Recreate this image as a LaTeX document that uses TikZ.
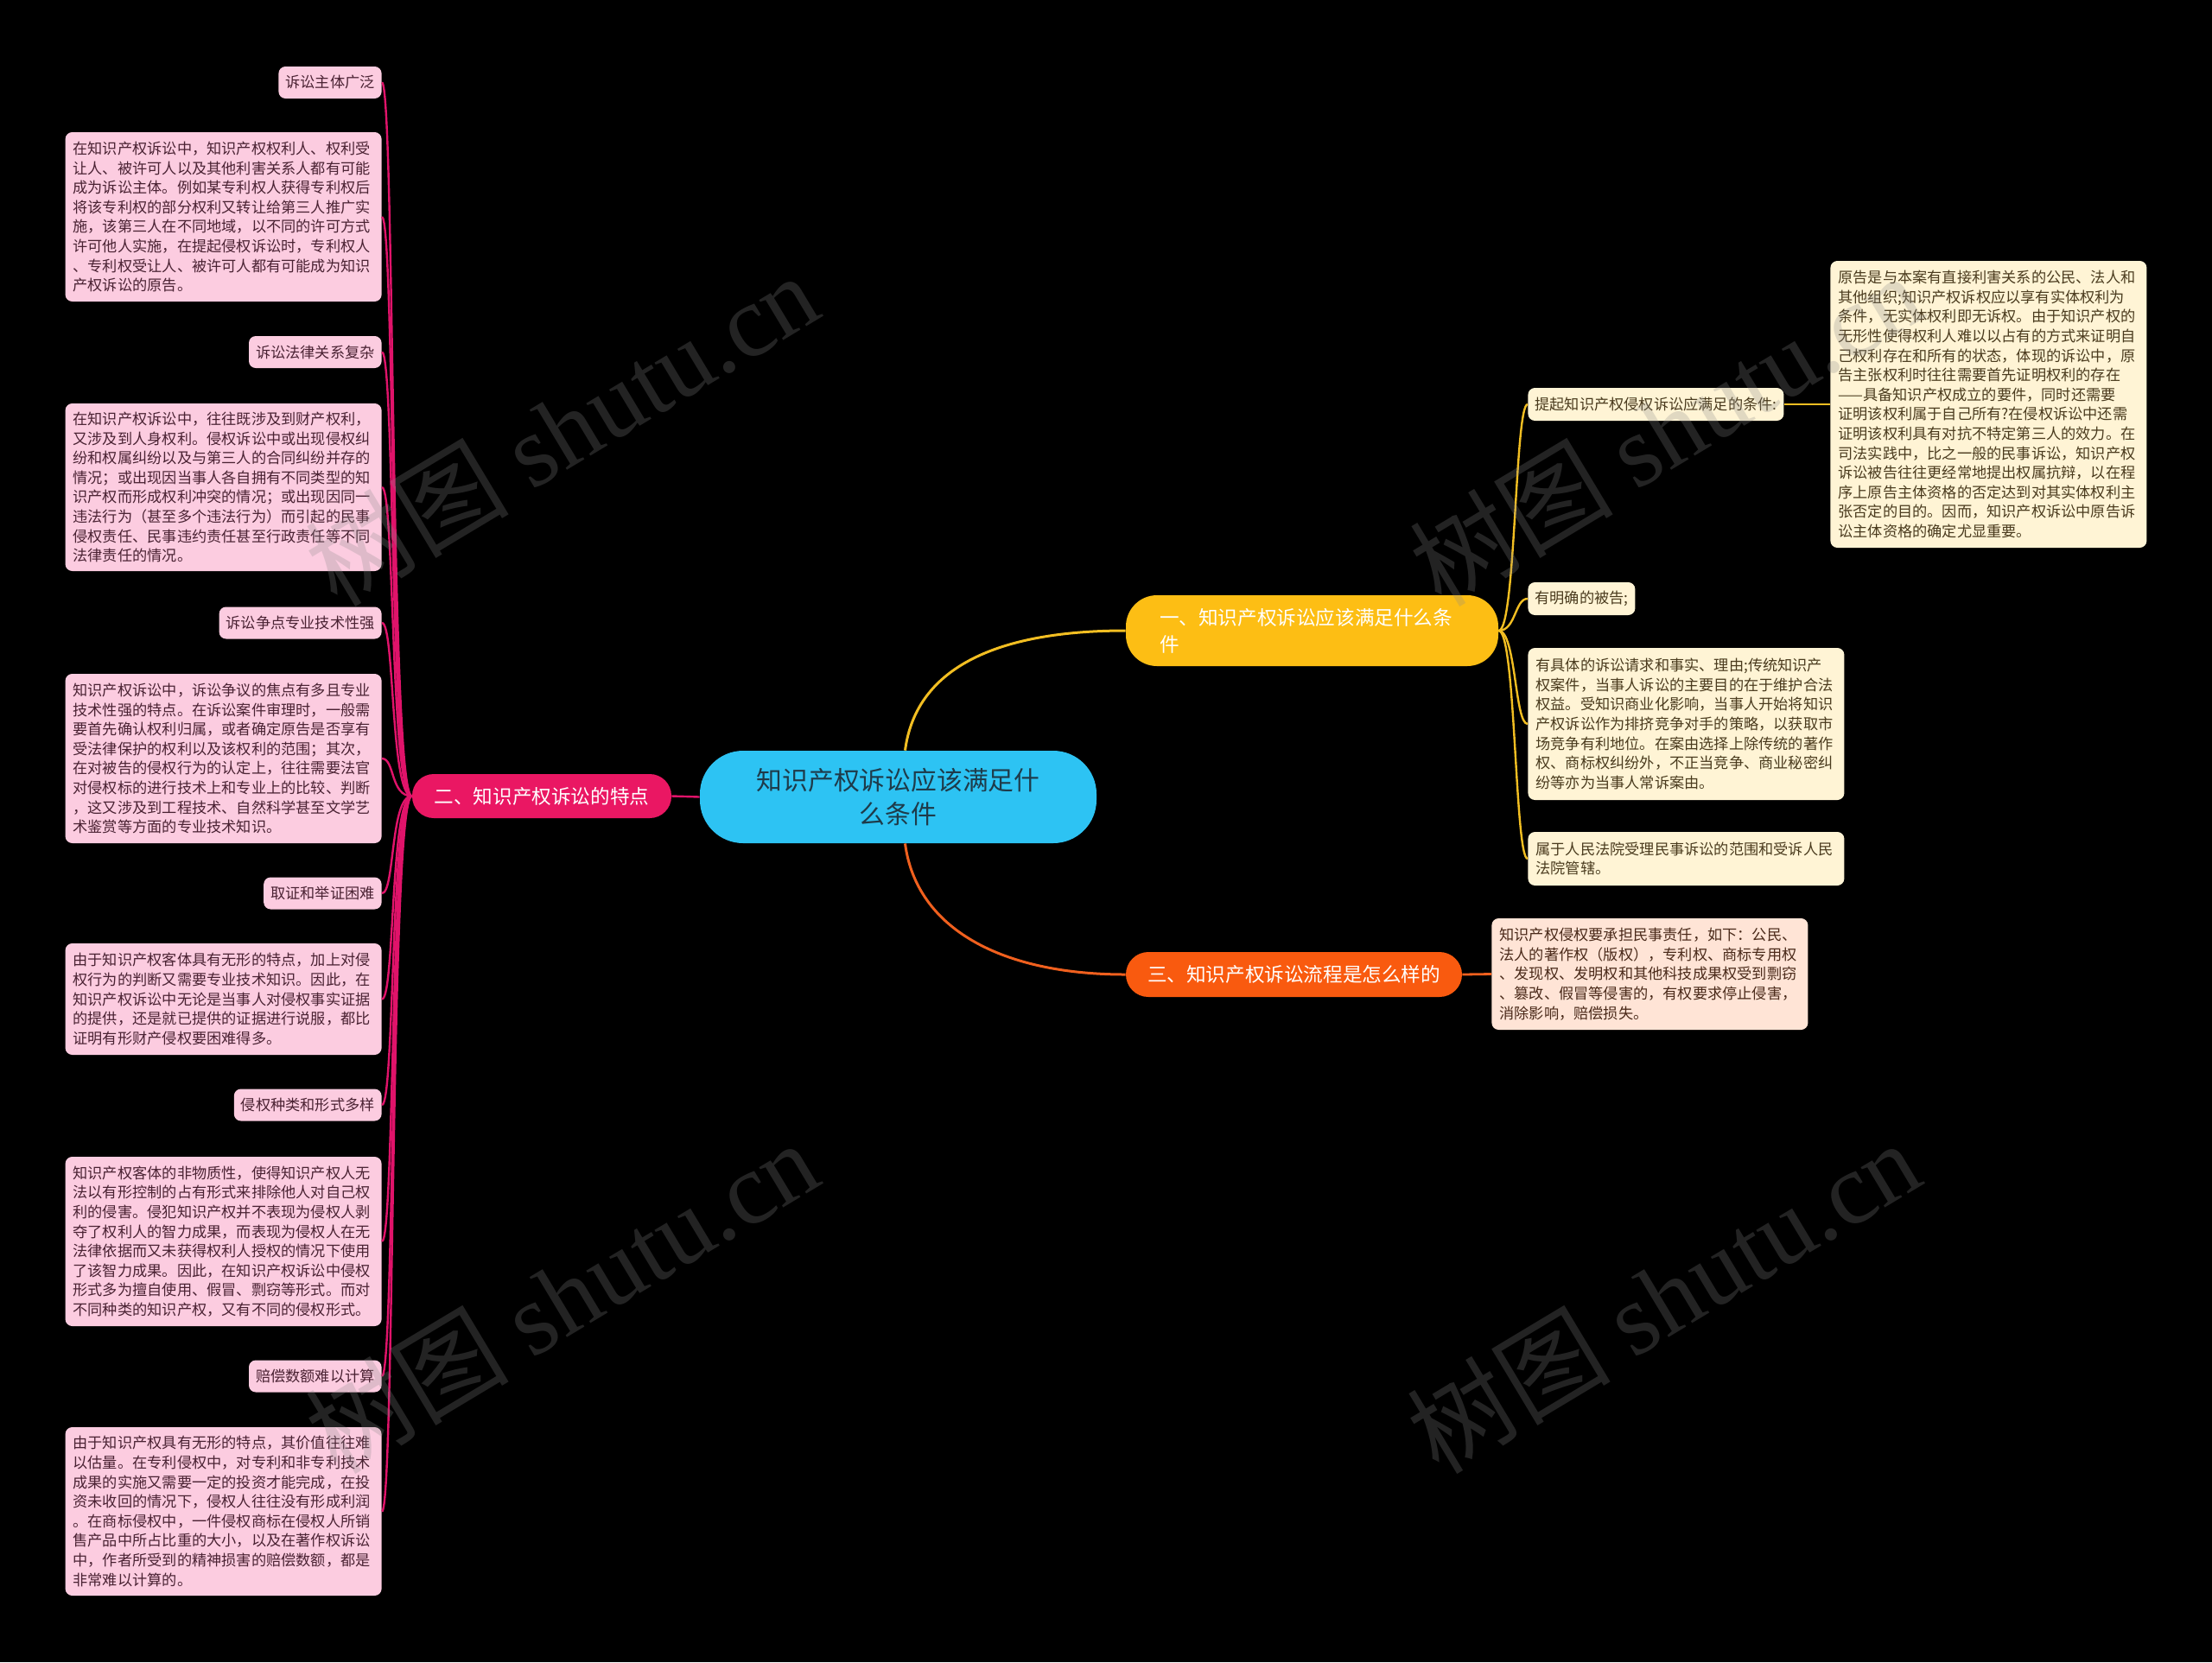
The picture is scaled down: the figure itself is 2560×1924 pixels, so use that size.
\documentclass[tikz,border=0pt]{standalone}
\usepackage{fontspec}
\setmainfont{Noto Sans CJK SC}
\newfontfamily\wmserif{Liberation Serif}
\usetikzlibrary{calc}
\definecolor{cfill}{HTML}{2DC3F3}
\definecolor{ctext}{HTML}{1E3B4A}
\definecolor{yfill}{HTML}{FDBE14}
\definecolor{pfill}{HTML}{EA1763}
\definecolor{ofill}{HTML}{F95A0F}
\definecolor{pleaf}{HTML}{FCCCE0}
\definecolor{ptext}{HTML}{4A2233}
\definecolor{yleaf}{HTML}{FFF4D5}
\definecolor{ytext}{HTML}{4A3B1E}
\definecolor{oleaf}{HTML}{FFE4D6}
\definecolor{otext}{HTML}{4A2A1A}
\definecolor{pline}{HTML}{E0136A}
\definecolor{yline}{HTML}{F2BE22}
\definecolor{oline}{HTML}{F0601E}
\definecolor{wm}{HTML}{8A8A8A}
\tikzset{
  leafbase/.style={rounded corners=4pt, inner xsep=4pt, inner ysep=0pt, font=\fontsize{8.6}{11.3}\selectfont},
  pinkleaf/.style={leafbase, fill=pleaf, text=ptext, minimum height=18.5pt, anchor=east},
  pinklong/.style={pinkleaf, text width=174pt, align=left, inner xsep=4.5pt},
  creamleaf/.style={leafbase, fill=yleaf, text=ytext, minimum height=19pt, anchor=west},
  creamlong/.style={creamleaf, text width=174pt, align=left, inner xsep=4.5pt},
  peachlong/.style={leafbase, fill=oleaf, text=otext, text width=174pt, align=left, inner xsep=4.5pt, anchor=west},
  branchbase/.style={text=white, font=\fontsize{11.3}{15.5}\selectfont, inner sep=0pt},
  rootnode/.style={fill=cfill, text=ctext, rounded corners=25pt, minimum width=229.5pt, minimum height=53.5pt, align=center, inner sep=0pt, font=\fontsize{14.9}{19.5}\selectfont},
  pinkln/.style={draw=pline, line width=1.2pt},
  yln/.style={draw=yline, line width=1.2pt},
  oln/.style={draw=oline, line width=1.4pt},
  wmark/.style={rotate=31, text=wm, text opacity=0.26, font=\fontsize{59}{59}\selectfont, inner sep=0pt}
}
\begin{document}
\begin{tikzpicture}[x=0.5pt,y=-0.5pt]
\fill[black] (0,0) rectangle (2560,1924);
\useasboundingbox (0,0) rectangle (2560,1924);

% root and branches
\node[rootnode] (c) at (1039.5,922.5) {知识产权诉讼应该满足什\\么条件};
\node[branchbase, fill=yfill, rounded corners=18pt, minimum height=41pt, text width=176.5pt, inner xsep=19.5pt, align=left] (b1) at (1518.5,730) {一、知识产权诉讼应该满足什么条\\件};
\node[branchbase, fill=pfill, rounded corners=12.5pt, minimum height=25.5pt, minimum width=150pt] (b2) at (627,921.5) {二、知识产权诉讼的特点};
\node[branchbase, fill=ofill, rounded corners=13pt, minimum height=26pt, minimum width=194.5pt] (b3) at (1497.5,1128) {三、知识产权诉讼流程是怎么样的};

% left leaves
\node[pinkleaf] (s1) at (442,95.5) {诉讼主体广泛};
\node[pinklong, minimum height=98pt] (l1) at (442,251) {在知识产权诉讼中，知识产权权利人、权利受\\让人、被许可人以及其他利害关系人都有可能\\成为诉讼主体。例如某专利权人获得专利权后\\将该专利权的部分权利又转让给第三人推广实\\施，该第三人在不同地域，以不同的许可方式\\许可他人实施，在提起侵权诉讼时，专利权人\\、专利权受让人、被许可人都有可能成为知识\\产权诉讼的原告。};
\node[pinkleaf] (s2) at (442,407.5) {诉讼法律关系复杂};
\node[pinklong, minimum height=97pt] (l2) at (442,564) {在知识产权诉讼中，往往既涉及到财产权利，\\又涉及到人身权利。侵权诉讼中或出现侵权纠\\纷和权属纠纷以及与第三人的合同纠纷并存的\\情况；或出现因当事人各自拥有不同类型的知\\识产权而形成权利冲突的情况；或出现因同一\\违法行为（甚至多个违法行为）而引起的民事\\侵权责任、民事违约责任甚至行政责任等不同\\法律责任的情况。};
\node[pinkleaf] (s3) at (442,721) {诉讼争点专业技术性强};
\node[pinklong, minimum height=98pt] (l3) at (442,878) {知识产权诉讼中，诉讼争议的焦点有多且专业\\技术性强的特点。在诉讼案件审理时，一般需\\要首先确认权利归属，或者确定原告是否享有\\受法律保护的权利以及该权利的范围；其次，\\在对被告的侵权行为的认定上，往往需要法官\\对侵权标的进行技术上和专业上的比较、判断\\，这又涉及到工程技术、自然科学甚至文学艺\\术鉴赏等方面的专业技术知识。};
\node[pinkleaf] (s4) at (442,1034) {取证和举证困难};
\node[pinklong, minimum height=64.5pt] (l4) at (442,1156.5) {由于知识产权客体具有无形的特点，加上对侵\\权行为的判断又需要专业技术知识。因此，在\\知识产权诉讼中无论是当事人对侵权事实证据\\的提供，还是就已提供的证据进行说服，都比\\证明有形财产侵权要困难得多。};
\node[pinkleaf] (s5) at (442,1279) {侵权种类和形式多样};
\node[pinklong, minimum height=98pt] (l5) at (442,1437) {知识产权客体的非物质性，使得知识产权人无\\法以有形控制的占有形式来排除他人对自己权\\利的侵害。侵犯知识产权并不表现为侵权人剥\\夺了权利人的智力成果，而表现为侵权人在无\\法律依据而又未获得权利人授权的情况下使用\\了该智力成果。因此，在知识产权诉讼中侵权\\形式多为擅自使用、假冒、剽窃等形式。而对\\不同种类的知识产权，又有不同的侵权形式。};
\node[pinkleaf] (s6) at (442,1593) {赔偿数额难以计算};
\node[pinklong, minimum height=97.5pt] (l6) at (442,1749.5) {由于知识产权具有无形的特点，其价值往往难\\以估量。在专利侵权中，对专利和非专利技术\\成果的实施又需要一定的投资才能完成，在投\\资未收回的情况下，侵权人往往没有形成利润\\。在商标侵权中，一件侵权商标在侵权人所销\\售产品中所占比重的大小，以及在著作权诉讼\\中，作者所受到的精神损害的赔偿数额，都是\\非常难以计算的。};

% right leaves
\node[creamleaf] (r1) at (1768,468) {提起知识产权侵权诉讼应满足的条件:};
\node[creamlong, minimum height=166pt] (r1d) at (2118,468) {原告是与本案有直接利害关系的公民、法人和\\其他组织;知识产权诉权应以享有实体权利为\\条件，无实体权利即无诉权。由于知识产权的\\无形性使得权利人难以以占有的方式来证明自\\己权利存在和所有的状态，体现的诉讼中，原\\告主张权利时往往需要首先证明权利的存在\\——具备知识产权成立的要件，同时还需要\\证明该权利属于自己所有?在侵权诉讼中还需\\证明该权利具有对抗不特定第三人的效力。在\\司法实践中，比之一般的民事诉讼，知识产权\\诉讼被告往往更经常地提出权属抗辩，以在程\\序上原告主体资格的否定达到对其实体权利主\\张否定的目的。因而，知识产权诉讼中原告诉\\讼主体资格的确定尤显重要。};
\node[creamleaf] (r2) at (1768,693) {有明确的被告;};
\node[creamlong, minimum height=88pt] (r3) at (1768,838) {有具体的诉讼请求和事实、理由;传统知识产\\权案件，当事人诉讼的主要目的在于维护合法\\权益。受知识商业化影响，当事人开始将知识\\产权诉讼作为排挤竞争对手的策略，以获取市\\场竞争有利地位。在案由选择上除传统的著作\\权、商标权纠纷外，不正当竞争、商业秘密纠\\纷等亦为当事人常诉案由。};
\node[creamlong, minimum height=31pt] (r4) at (1768,994) {属于人民法院受理民事诉讼的范围和受诉人民\\法院管辖。};
\node[peachlong, minimum height=64.5pt] (o1) at (1726,1127.5) {知识产权侵权要承担民事责任，如下：公民、\\法人的著作权（版权），专利权、商标专用权\\、发现权、发明权和其他科技成果权受到剽窃\\、篡改、假冒等侵害的，有权要求停止侵害，\\消除影响，赔偿损失。};

% connectors
\draw[pinkln] (c.west) -- (b2.east);
\draw[yln, line width=1.5pt] ($(c.north)+(8,0)$) .. controls +(13,-99) and +(-143,0) .. (b1.west);
\draw[oln, line width=1.5pt] ($(c.south)+(8,0)$) .. controls +(13,99) and +(-143,0) .. (b3.west);
\foreach \n in {s1,l1,s2,l2,s3,l3,s4,l4,s5,l5,s6,l6}{
  \draw[pinkln] (b2.west) .. controls +(-25,0) and +(15,0) .. (\n.east);
}
\foreach \n in {r1,r2,r3,r4}{
  \draw[yln] (b1.east) .. controls +(20,0) and +(-15,0) .. (\n.west);
}
\draw[yln] (r1.east) -- (r1d.west);
\draw[oln] (b3.east) -- (o1.west);

% watermarks
\node[wmark] (w1) at (650,496) {树图 {\wmserif shutu.cn}};
\node[wmark] (w2) at (1928,496) {树图 {\wmserif shutu.cn}};
\node[wmark] (w3) at (650,1500) {树图 {\wmserif shutu.cn}};
\node[wmark] (w4) at (1925,1500) {树图 {\wmserif shutu.cn}};
\end{tikzpicture}
\end{document}
